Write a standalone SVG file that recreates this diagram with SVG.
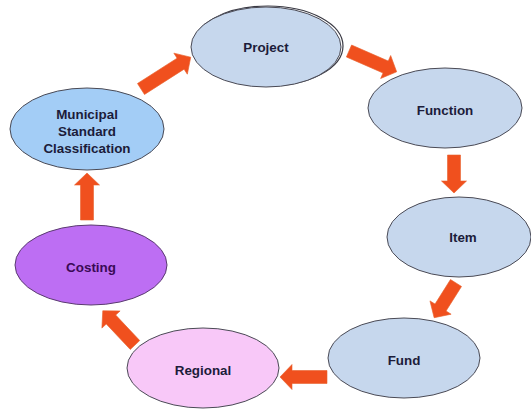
<svg xmlns="http://www.w3.org/2000/svg" width="531" height="409" viewBox="0 0 531 409">
  <style>
    .node { stroke: #4a4a55; stroke-width: 1; }
    .blue { fill: #c6d7ed; }
    .sky { fill: #a3cdf6; }
    .violet { fill: #bd6ef3; stroke: #5a3a70; }
    .pink { fill: #f8c8f8; }
    .label { font-family: "Liberation Sans", Arial, sans-serif; font-size: 13.4px; font-weight: bold; fill: #1c1c3a; text-anchor: middle; dominant-baseline: central; }
    .label.dark { fill: #3a0a55; }
    .arrow { fill: #f0501e; stroke: #e8622e; stroke-width: 0.6; stroke-linejoin: miter; }
  </style>
  <rect width="531" height="409" fill="#ffffff"/>

  <!-- cycle nodes -->
  <g id="project">
    <ellipse cx="268" cy="46" rx="75" ry="40" fill="none" stroke="#3a3a44" stroke-width="1.2"/>
    <ellipse class="node blue" cx="266" cy="47" rx="75" ry="40"/>
    <text class="label" x="266" y="47">Project</text>
  </g>
  <g id="function">
    <ellipse class="node blue" cx="445" cy="108" rx="77" ry="40"/>
    <text class="label" x="445" y="110">Function</text>
  </g>
  <g id="item">
    <ellipse class="node blue" cx="459" cy="237" rx="72" ry="40"/>
    <text class="label" x="463" y="237">Item</text>
  </g>
  <g id="fund">
    <ellipse class="node blue" cx="404" cy="358" rx="76" ry="40"/>
    <text class="label" x="404" y="360">Fund</text>
  </g>
  <g id="regional">
    <ellipse class="node pink" cx="203" cy="368" rx="76" ry="40"/>
    <text class="label" x="203" y="370">Regional</text>
  </g>
  <g id="costing">
    <ellipse class="node violet" cx="91" cy="265" rx="76" ry="40"/>
    <text class="label dark" x="91" y="267">Costing</text>
  </g>
  <g id="municipal">
    <ellipse class="node sky" cx="87" cy="129" rx="77" ry="41"/>
    <text class="label" x="87" y="114">Municipal</text>
    <text class="label" x="87" y="131">Standard</text>
    <text class="label" x="87" y="148">Classification</text>
  </g>

  <!-- block arrows between stages -->
  <g id="connectors">
    <path class="arrow" transform="translate(141,89) rotate(-32.6)" d="M0,-6.5 H47 V-12.5 L59,0 L47,12.5 V6.5 H0 Z"/>
    <path class="arrow" transform="translate(349,51) rotate(23.6)" d="M0,-6.5 H40 V-12.5 L52,0 L40,12.5 V6.5 H0 Z"/>
    <path class="arrow" transform="translate(454,155) rotate(90)" d="M0,-6.5 H26 V-12.5 L38,0 L26,12.5 V6.5 H0 Z"/>
    <path class="arrow" transform="translate(456,283) rotate(122.2)" d="M0,-6.5 H29 V-12.5 L41,0 L29,12.5 V6.5 H0 Z"/>
    <path class="arrow" transform="translate(327,377) rotate(180)" d="M0,-6.5 H35 V-12.5 L47,0 L35,12.5 V6.5 H0 Z"/>
    <path class="arrow" transform="translate(135,345) rotate(-133.3)" d="M0,-6.5 H35 V-12.5 L47,0 L35,12.5 V6.5 H0 Z"/>
    <path class="arrow" transform="translate(87,220) rotate(-90)" d="M0,-6.5 H35 V-12.5 L47,0 L35,12.5 V6.5 H0 Z"/>
  </g>
</svg>
